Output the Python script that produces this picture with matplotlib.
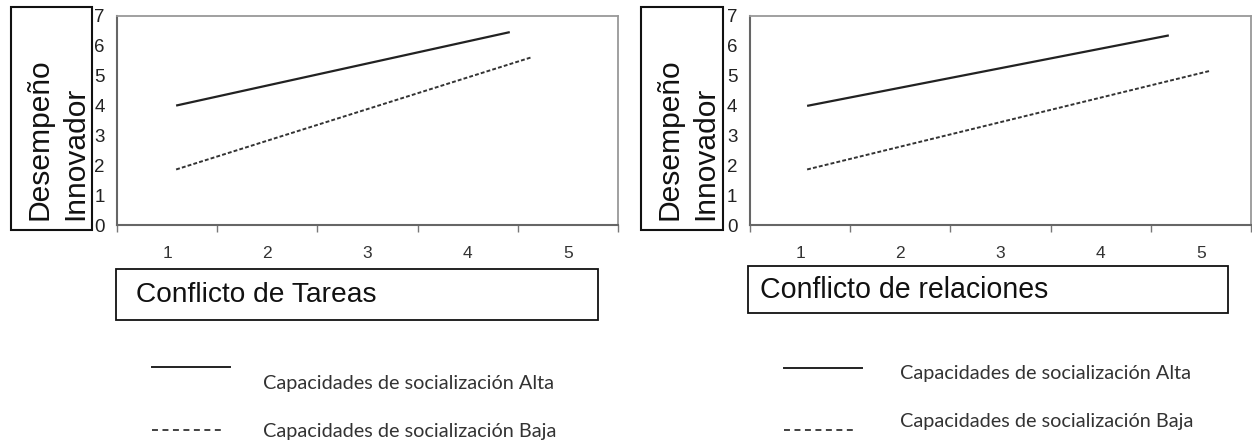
import matplotlib
matplotlib.use("Agg")
import matplotlib.pyplot as plt
from matplotlib.patches import Rectangle
from matplotlib.lines import Line2D

# data
categories = [1, 2, 3, 4, 5]
y_ticks = [0, 1, 2, 3, 4, 5, 6, 7]

tareas_alta_x = [1.09, 4.42]
tareas_alta_y = [4.00, 6.46]
tareas_baja_x = [1.09, 4.63]
tareas_baja_y = [1.86, 5.61]

relaciones_alta_x = [1.07, 4.68]
relaciones_alta_y = [3.99, 6.35]
relaciones_baja_x = [1.07, 5.10]
relaciones_baja_y = [1.86, 5.17]

x_titles = ["Conflicto de Tareas", "Conflicto de relaciones"]
y_title_lines = ["Desempeño", "Innovador"]
legend_labels = ["Capacidades de socialización Alta", "Capacidades de socialización Baja"]

W, H = 1252, 445
fig = plt.figure(figsize=(W / 100, H / 100), dpi=100)
fig.patch.set_facecolor("white")
renderer = fig.canvas.get_renderer()


def fx(px):
    return px / W


def fy(py):
    return 1 - py / H


def fit(t, target, vertical=False):
    # scale font so the text spans about `target` pixels
    bb = t.get_window_extent(renderer)
    size = bb.height if vertical else bb.width
    t.set_fontsize(t.get_fontsize() * target / size)


def box(x0, y0, x1, y1, lw=1.3):
    fig.add_artist(Rectangle((fx(x0), fy(y1)), fx(x1) - fx(x0), fy(y0) - fy(y1),
                             transform=fig.transFigure, fill=False,
                             edgecolor="#111111", linewidth=lw))


def panel(left_px, alta_x, alta_y, baja_x, baja_y):
    ax = fig.add_axes([fx(left_px), fy(225), fx(501), (225 - 16) / H])
    ax.plot(alta_x, alta_y, color="#222222", linewidth=1.6, solid_capstyle="butt")
    ax.plot(baja_x, baja_y, color="#333333", linewidth=1.4, linestyle=(0, (2.0, 1.1)))
    ax.set_xlim(0.5, 5.5)
    ax.set_ylim(0, 7)
    ax.set_yticks(y_ticks)
    ax.set_yticklabels([str(v) for v in y_ticks], fontsize=13.5,
                       family="Liberation Sans", color="#222222")
    # category style axis: ticks between the categories, labels centred
    ax.set_xticks([c - 0.5 for c in categories] + [5.5])
    ax.set_xticklabels([])
    ax.set_xticks(categories, minor=True)
    ax.set_xticklabels([str(c) for c in categories], minor=True, fontsize=12.5,
                       family="Liberation Sans", color="#333333")
    ax.tick_params(axis="x", which="major", length=5, width=1, color="#777777", direction="out")
    ax.tick_params(axis="x", which="minor", length=0, pad=15)
    ax.tick_params(axis="y", length=0, pad=9)
    for s in ["top", "right"]:
        ax.spines[s].set_color("#999999")
        ax.spines[s].set_linewidth(1.3)
    for s in ["left", "bottom"]:
        ax.spines[s].set_color("#666666")
        ax.spines[s].set_linewidth(1.5)
    return ax


panel(117, tareas_alta_x, tareas_alta_y, tareas_baja_x, tareas_baja_y)
panel(750, relaciones_alta_x, relaciones_alta_y, relaciones_baja_x, relaciones_baja_y)

# y title boxes, two rotated lines each
for x0, x1 in [(11, 92), (641, 723)]:
    box(x0, 7, x1, 230, lw=1.5)
    texts = []
    for dx, line in zip([29, 64], y_title_lines):
        texts.append(fig.text(fx(x0 + dx), fy(220), line, rotation=90, ha="center", va="bottom",
                              fontsize=21, family="Liberation Sans", color="#111111"))
    fit(texts[0], 162, vertical=True)
    texts[1].set_fontsize(texts[0].get_fontsize())

# x title boxes
box(116, 269, 598, 320)
t = fig.text(fx(136), fy(295), x_titles[0], ha="left", va="center", fontsize=20,
             family="Liberation Sans", color="#111111")
fit(t, 240)
box(748, 266, 1228, 313)
t = fig.text(fx(760), fy(290), x_titles[1], ha="left", va="center", fontsize=20,
             family="Liberation Sans", color="#111111")
fit(t, 288)

# legends
for (lx0, lx1, ly_alta, ty_alta, ly_baja, ty_baja, tx) in [
        (152, 230, 367, 384, 430, 432, 263),
        (784, 862, 368, 374, 430, 422, 900)]:
    fig.add_artist(Line2D([fx(lx0), fx(lx1)], [fy(ly_alta)] * 2, transform=fig.transFigure,
                          color="#222222", linewidth=1.4))
    fig.add_artist(Line2D([fx(lx0), fx(lx1 - 6)], [fy(ly_baja)] * 2, transform=fig.transFigure,
                          color="#333333", linewidth=1.3, linestyle=(0, (3.3, 2.5))))
    ta = fig.text(fx(tx), fy(ty_alta), legend_labels[0], ha="left", va="center",
                  fontsize=15, family="Lato", color="#333333")
    tb = fig.text(fx(tx), fy(ty_baja), legend_labels[1], ha="left", va="center",
                  fontsize=15, family="Lato", color="#333333")
    fit(ta, 292)
    tb.set_fontsize(ta.get_fontsize())

fig.savefig("out.png", dpi=100)
